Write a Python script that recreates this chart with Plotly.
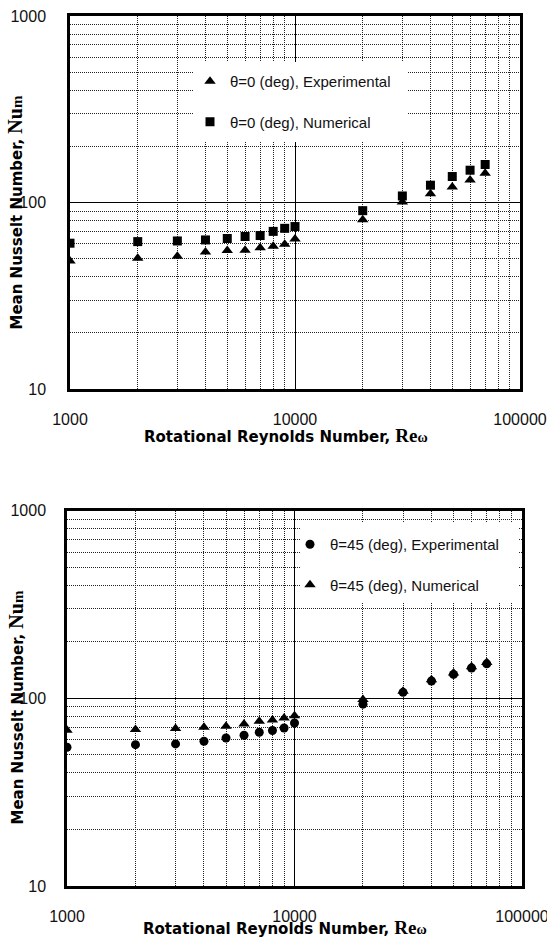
import plotly.graph_objects as go

W, H = 547, 938

re_omega = [1000, 2000, 3000, 4000, 5000, 6000, 7000, 8000, 9000, 10000,
            20000, 30000, 40000, 50000, 60000, 70000]
nu0_exp = [48.5, 50.3, 51.5, 54.2, 55.3, 55.5, 57.2, 58.3, 59.7, 63.7,
           80.7, 100.5, 111.3, 121.0, 132.0, 143.6]
nu0_num = [60.5, 61.7, 62.2, 63.0, 64.1, 65.7, 66.5, 70.0, 72.7, 74.3,
           90.4, 108.4, 123.8, 137.8, 149.0, 159.9]
nu45_exp = [54.8, 56.6, 57.1, 59.0, 61.4, 63.5, 65.9, 67.3, 69.4, 73.8,
            93.0, 107.5, 123.5, 134.0, 145.0, 152.5]
nu45_num = [67.5, 68.1, 68.9, 70.0, 71.0, 72.9, 75.4, 76.5, 78.5, 80.7,
            98.4, 109.0, 125.5, 136.5, 147.0, 155.0]

x_major = [1000, 10000, 100000]
x_major_text = ["1000", "10000", "100000"]
x_minor = [2000, 3000, 4000, 5000, 6000, 7000, 8000, 9000,
           20000, 30000, 40000, 50000, 60000, 70000, 80000, 90000]
y_major = [10, 100, 1000]
y_major_text = ["10", "100", "1000"]
y_minor = [20, 30, 40, 50, 60, 70, 80, 90, 200, 300, 400, 500, 600, 700, 800, 900]

leg_top = ["θ=0 (deg), Experimental", "θ=0 (deg), Numerical"]
leg_bot = ["θ=45 (deg), Experimental", "θ=45 (deg), Numerical"]


def px_x(p):
    return p / W


def px_y(p):
    return 1 - p / H


tick_font = dict(family="Liberation Sans", size=16, color="#111")
leg_font = dict(family="Liberation Sans", size=15, color="#111")

fig = go.Figure()

fig.add_trace(go.Scatter(x=re_omega, y=nu0_exp, mode="markers", name=leg_top[0],
                         marker=dict(symbol="triangle-up", size=10, color="black"),
                         xaxis="x", yaxis="y", legend="legend", legendgroup="a"))
fig.add_trace(go.Scatter(x=re_omega, y=nu0_num, mode="markers", name=leg_top[1],
                         marker=dict(symbol="square", size=9, color="black"),
                         xaxis="x", yaxis="y", legend="legend", legendgroup="b"))
fig.add_trace(go.Scatter(x=re_omega, y=nu45_exp, mode="markers", name=leg_bot[0],
                         marker=dict(symbol="circle", size=9, color="black"),
                         xaxis="x2", yaxis="y2", legend="legend2", legendgroup="c"))
fig.add_trace(go.Scatter(x=re_omega, y=nu45_num, mode="markers", name=leg_bot[1],
                         marker=dict(symbol="triangle-up", size=10, color="black"),
                         xaxis="x2", yaxis="y2", legend="legend2", legendgroup="d"))

minor_grid = dict(tickmode="array", showgrid=True, gridcolor="#222",
                  griddash="1px,1px", gridwidth=1, ticks="")


def xaxis_cfg(domain, anchor):
    return dict(type="log", range=[3, 5], domain=domain, anchor=anchor,
                tickmode="array", tickvals=x_major, ticktext=x_major_text,
                showgrid=True, gridcolor="black", gridwidth=1,
                minor=dict(tickvals=x_minor, **minor_grid),
                showline=True, mirror=True, linecolor="black", linewidth=2.5,
                ticks="", ticklabelstandoff=14, tickfont=tick_font, zeroline=False,
                ticklabeloverflow="allow", automargin=False)


def yaxis_cfg(domain, anchor, standoff):
    return dict(type="log", range=[1, 3], domain=domain, anchor=anchor,
                tickmode="array", tickvals=y_major, ticktext=y_major_text,
                showgrid=True, gridcolor="black", gridwidth=1,
                minor=dict(tickvals=y_minor, **minor_grid),
                showline=True, mirror=True, linecolor="black", linewidth=2.5,
                ticks="", ticklabelstandoff=standoff, tickfont=tick_font, zeroline=False,
                automargin=False)


fig.update_layout(
    width=W, height=H,
    margin=dict(l=0, r=0, t=0, b=0, autoexpand=False),
    paper_bgcolor="white", plot_bgcolor="white",
    xaxis=xaxis_cfg([px_x(70), px_x(520)], "y"),
    yaxis=yaxis_cfg([px_y(389), px_y(16)], "x", 18),
    xaxis2=xaxis_cfg([px_x(67), px_x(522)], "y2"),
    yaxis2=yaxis_cfg([px_y(886), px_y(510.5)], "x2", 15),
    legend=dict(x=px_x(190), y=px_y(65), xanchor="left", yanchor="top",
                bgcolor="rgba(0,0,0,0)", font=leg_font, tracegroupgap=18,
                traceorder="grouped"),
    legend2=dict(x=px_x(290), y=px_y(528), xanchor="left", yanchor="top",
                 bgcolor="rgba(0,0,0,0)", font=leg_font, tracegroupgap=18,
                 traceorder="grouped"),
    shapes=[
        dict(type="rect", xref="paper", yref="paper", layer="above",
             x0=px_x(194), x1=px_x(408), y0=px_y(142), y1=px_y(62),
             fillcolor="white", line=dict(width=0)),
        dict(type="rect", xref="paper", yref="paper", layer="above",
             x0=px_x(300), x1=px_x(518), y0=px_y(603), y1=px_y(522),
             fillcolor="white", line=dict(width=0)),
    ],
)

title_font = dict(family="DejaVu Sans", size=15, color="black", weight="bold")
xtitle = ("Rotational Reynolds Number, "
          "<span style=\"font-family:Liberation Serif;font-size:19px\">Re</span>"
          "<span style=\"font-family:Liberation Serif;font-size:14px\">ω</span>")
ytitle = ("Mean Nusselt Number, "
          "<span style=\"font-family:Liberation Serif;font-size:20px\">Nu</span>"
          "<span style=\"font-family:Liberation Serif;font-size:15px\">m</span>")

for xc, yc in [(286, 435), (285, 927)]:
    fig.add_annotation(text=xtitle, x=px_x(xc), y=px_y(yc), xref="paper", yref="paper",
                       xanchor="center", yanchor="middle", showarrow=False, font=title_font)
for yc in [212.5, 707.5]:
    fig.add_annotation(text=ytitle, x=px_x(15), y=px_y(yc), xref="paper", yref="paper",
                       xanchor="center", yanchor="middle", showarrow=False,
                       textangle=-90, font=title_font)

fig.write_html("out.html", config={"displayModeBar": False},
               post_script="document.body.style.margin='0';")
